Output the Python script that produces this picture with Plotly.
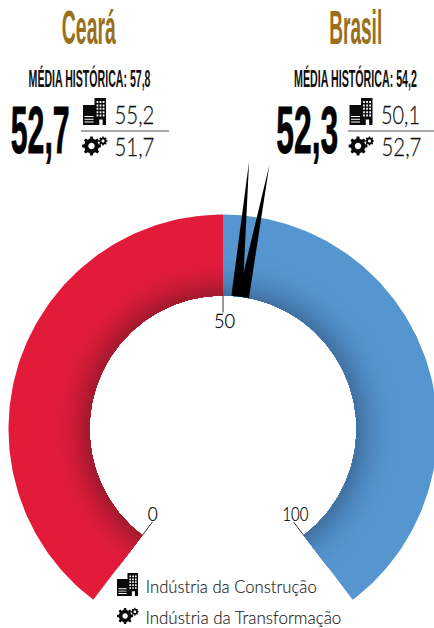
import math
import json
import plotly.graph_objects as go

# ---- data ----
regions = ["Ceará", "Brasil"]
totals = ["52,7", "52,3"]
historic = ["MÉDIA HISTÓRICA: 57,8", "MÉDIA HISTÓRICA: 54,2"]
construction = ["55,2", "50,1"]
transformation = ["51,7", "52,7"]
legend_labels = ["Indústria da Construção", "Indústria da Transformação"]
gauge_ticks = [0, 50, 100]
gauge_segments = [(0, 50, "#E31B3B", "#9C1A2D"), (50, 100, "#5595D0", "#3F6E9E")]
needle_tip_pos = [51.95, 53.49]
needle_base_pos = [52.1, 53.08]

# ---- geometry ----
W, H = 434, 628
CX, CY = 223, 429
R_OUT, R_IN = 214.5, 133.5
SWEEP = 285.6


def ang(v):
    return math.radians(SWEEP * (v - 50) / 100)


def pol(v, r):
    a = ang(v)
    return CX + r * math.sin(a), CY - r * math.cos(a)


def sector(v0, v1, r0, r1, n=120):
    vs = [v0 + (v1 - v0) * i / n for i in range(n + 1)]
    outer = [pol(v, r1) for v in vs]
    inner = [pol(v, r0) for v in reversed(vs)]
    pts = outer + inner + outer[:1]
    return [p[0] for p in pts], [p[1] for p in pts]


def mix(a, b, t):
    ca = [int(a[i:i + 2], 16) for i in (1, 3, 5)]
    cb = [int(b[i:i + 2], 16) for i in (1, 3, 5)]
    return "rgb(%d,%d,%d)" % tuple(round(x + (y - x) * t) for x, y in zip(ca, cb))


fig = go.Figure()

DEPTH = 42
STEPS = 21
for v0, v1, base, dark in gauge_segments:
    xs, ys = sector(v0, v1, R_IN, R_OUT)
    fig.add_trace(go.Scatter(x=xs, y=ys, mode="lines", fill="toself", fillcolor=base,
                             line=dict(width=0), hoverinfo="skip", showlegend=False))
    for k in range(STEPS, 0, -1):
        d = DEPTH * k / STEPS
        t = (1 - d / DEPTH) ** 2
        xs, ys = sector(v0, v1, R_IN, R_IN + d)
        fig.add_trace(go.Scatter(x=xs, y=ys, mode="lines", fill="toself", fillcolor=mix(base, dark, t),
                                 line=dict(width=0), hoverinfo="skip", showlegend=False))

# needles
TIP_R = [268.5, 268]
for tip_v, base_v, tr in zip(needle_tip_pos, needle_base_pos, TIP_R):
    tx, ty = pol(tip_v, tr)
    bx, by = pol(base_v, R_IN)
    a = ang(base_v)
    hw = 5.6
    xs = [bx - hw * math.cos(a), tx, bx + hw * math.cos(a), bx - hw * math.cos(a)]
    ys = [by - hw * math.sin(a), ty, by + hw * math.sin(a), by - hw * math.sin(a)]
    fig.add_trace(go.Scatter(x=xs, y=ys, mode="lines", fill="toself", fillcolor="#000000",
                             line=dict(width=0), hoverinfo="skip", showlegend=False))

# ticks
for t in gauge_ticks:
    x0, y0 = pol(t, R_IN)
    x1, y1 = pol(t, R_IN - 17)
    fig.add_trace(go.Scatter(x=[x0, x1], y=[y0, y1], mode="lines", line=dict(color="#333333", width=1),
                             hoverinfo="skip", showlegend=False))


# ---- icons ----
def rect(x0, y0, x1, y1):
    return f"M{x0:.2f},{y0:.2f}L{x1:.2f},{y0:.2f}L{x1:.2f},{y1:.2f}L{x0:.2f},{y1:.2f}Z"


def building(x, y, w, h):
    sx, sy = w / 24, h / 27
    def X(v): return x + v * sx
    def Y(v): return y + v * sy
    paths = [rect(X(0), Y(7), X(12), Y(27)), rect(X(12), Y(0), X(24), Y(27))]
    holes = []
    for r in range(3):
        holes.append(rect(X(1.5), Y(18 + r * 2.8), X(11), Y(19 + r * 2.8)))
    for r in range(5):
        for c in range(3):
            holes.append(rect(X(14.2 + c * 3.2), Y(3 + r * 3.4), X(16 + c * 3.2), Y(5 + r * 3.4)))
    holes.append(rect(X(17), Y(21.5), X(20.5), Y(27)))
    return " ".join(paths + holes)


def gear(cx, cy, R, teeth):
    rr = R * 0.78
    pts = []
    for i in range(teeth):
        a0 = 2 * math.pi * i / teeth
        st = 2 * math.pi / teeth
        for off, rad in ((-0.30, rr), (-0.17, R), (0.17, R), (0.30, rr)):
            a = a0 + off * st
            pts.append((cx + rad * math.cos(a), cy + rad * math.sin(a)))
    p = "M" + "L".join(f"{a:.2f},{b:.2f}" for a, b in pts) + "Z"
    h = R * 0.34
    hole = [(cx + h * math.cos(2 * math.pi * i / 16), cy + h * math.sin(2 * math.pi * i / 16)) for i in range(16)]
    return p + " M" + "L".join(f"{a:.2f},{b:.2f}" for a, b in hole) + "Z"


def gears(x, y, s):
    return gear(x + 9.5 * s, y + 10 * s, 9.5 * s, 8) + " " + gear(x + 21 * s, y + 5 * s, 4.6 * s, 8)


icon_paths = [
    building(83, 98, 23, 27), gears(82, 136, 1.0),
    building(349.5, 98, 23, 27), gears(348.5, 136, 1.0),
    building(117, 573, 21, 23), gears(117, 607.5, 0.85),
]
shapes = [dict(type="path", path=p, xref="x", yref="y", fillcolor="#0a0a0a", line=dict(width=0),
               fillrule="evenodd") for p in icon_paths]
for x0, x1 in ((81, 169), (348, 434)):
    shapes.append(dict(type="line", xref="x", yref="y", x0=x0, x1=x1, y0=131, y1=131,
                       line=dict(color="#888888", width=1.5)))

# ---- text ----
COND = "Liberation Sans"
LIGHT = "Lato"
annotations, widths, strokes = [], [], []


def txt(s, x, y, size, color, family, weight, width, stroke=0):
    annotations.append(dict(text=s, x=x, y=y, xref="x", yref="y", xanchor="center", yanchor="middle",
                            showarrow=False, font=dict(size=size, color=color, family=family, weight=weight)))
    widths.append(width)
    strokes.append(stroke)


GOLD = "#9A6F1C"
txt(regions[0], 88.5, 27.5, 48, GOLD, COND, 700, 54)
txt(regions[1], 355.5, 27.5, 48, GOLD, COND, 700, 53)
txt(historic[0], 89, 78, 23, "#111111", COND, 700, 122)
txt(historic[1], 355.5, 78, 23, "#111111", COND, 700, 123)
txt(totals[0], 39.5, 129.5, 66, "#000000", COND, 700, 59, 0.8)
txt(totals[1], 307, 129.5, 66, "#000000", COND, 700, 62, 0.8)
txt(construction[0], 134, 113.5, 26, "#111111", LIGHT, 300, 40, 0.25)
txt(transformation[0], 134, 145.5, 26, "#111111", LIGHT, 300, 40, 0.25)
txt(construction[1], 400.5, 113.5, 26, "#111111", LIGHT, 300, 39, 0.25)
txt(transformation[1], 401, 145.5, 26, "#111111", LIGHT, 300, 40, 0.25)
txt(str(gauge_ticks[0]), 153, 513, 20, "#000000", LIGHT, 300, 10, 0.25)
txt(str(gauge_ticks[1]), 224.5, 320, 20, "#000000", LIGHT, 300, 21, 0.25)
txt(str(gauge_ticks[2]), 295, 513, 20, "#000000", LIGHT, 300, 26, 0.25)
txt(legend_labels[0], 231, 586, 17, "#222222", LIGHT, 300, 171, 0.15)
txt(legend_labels[1], 243.5, 617, 17, "#222222", LIGHT, 300, 196, 0.15)

fig.update_layout(
    width=W, height=H, margin=dict(l=0, r=0, t=0, b=0),
    paper_bgcolor="white", plot_bgcolor="white", showlegend=False,
    xaxis=dict(range=[0, W], visible=False, fixedrange=True),
    yaxis=dict(range=[H, 0], visible=False, fixedrange=True),
    shapes=shapes, annotations=annotations,
)

post = """
document.body.style.margin = '0';
var w = %s, s = %s;
document.querySelectorAll('g.annotation').forEach(function (g, i) {
  var el = g.querySelector('.annotation-text');
  var natural = el.getComputedTextLength();
  var b = el.getBBox();
  var cx = b.x + b.width / 2;
  var k = w[i] / natural;
  el.setAttribute('transform', 'translate(' + cx + ' 0) scale(' + k + ' 1) translate(' + (-cx) + ' 0)');
  if (s[i]) { el.style.stroke = el.style.fill; el.style.strokeWidth = s[i] + 'px'; }
  g.querySelectorAll('rect').forEach(function (r) {
    r.setAttribute('x', (+r.getAttribute('x')) + (natural - w[i]) / 2);
    r.setAttribute('width', w[i]);
  });
});
""" % (json.dumps(widths), json.dumps(strokes))

fig.write_html("out.html", config=dict(displayModeBar=False, responsive=False), post_script=post)
